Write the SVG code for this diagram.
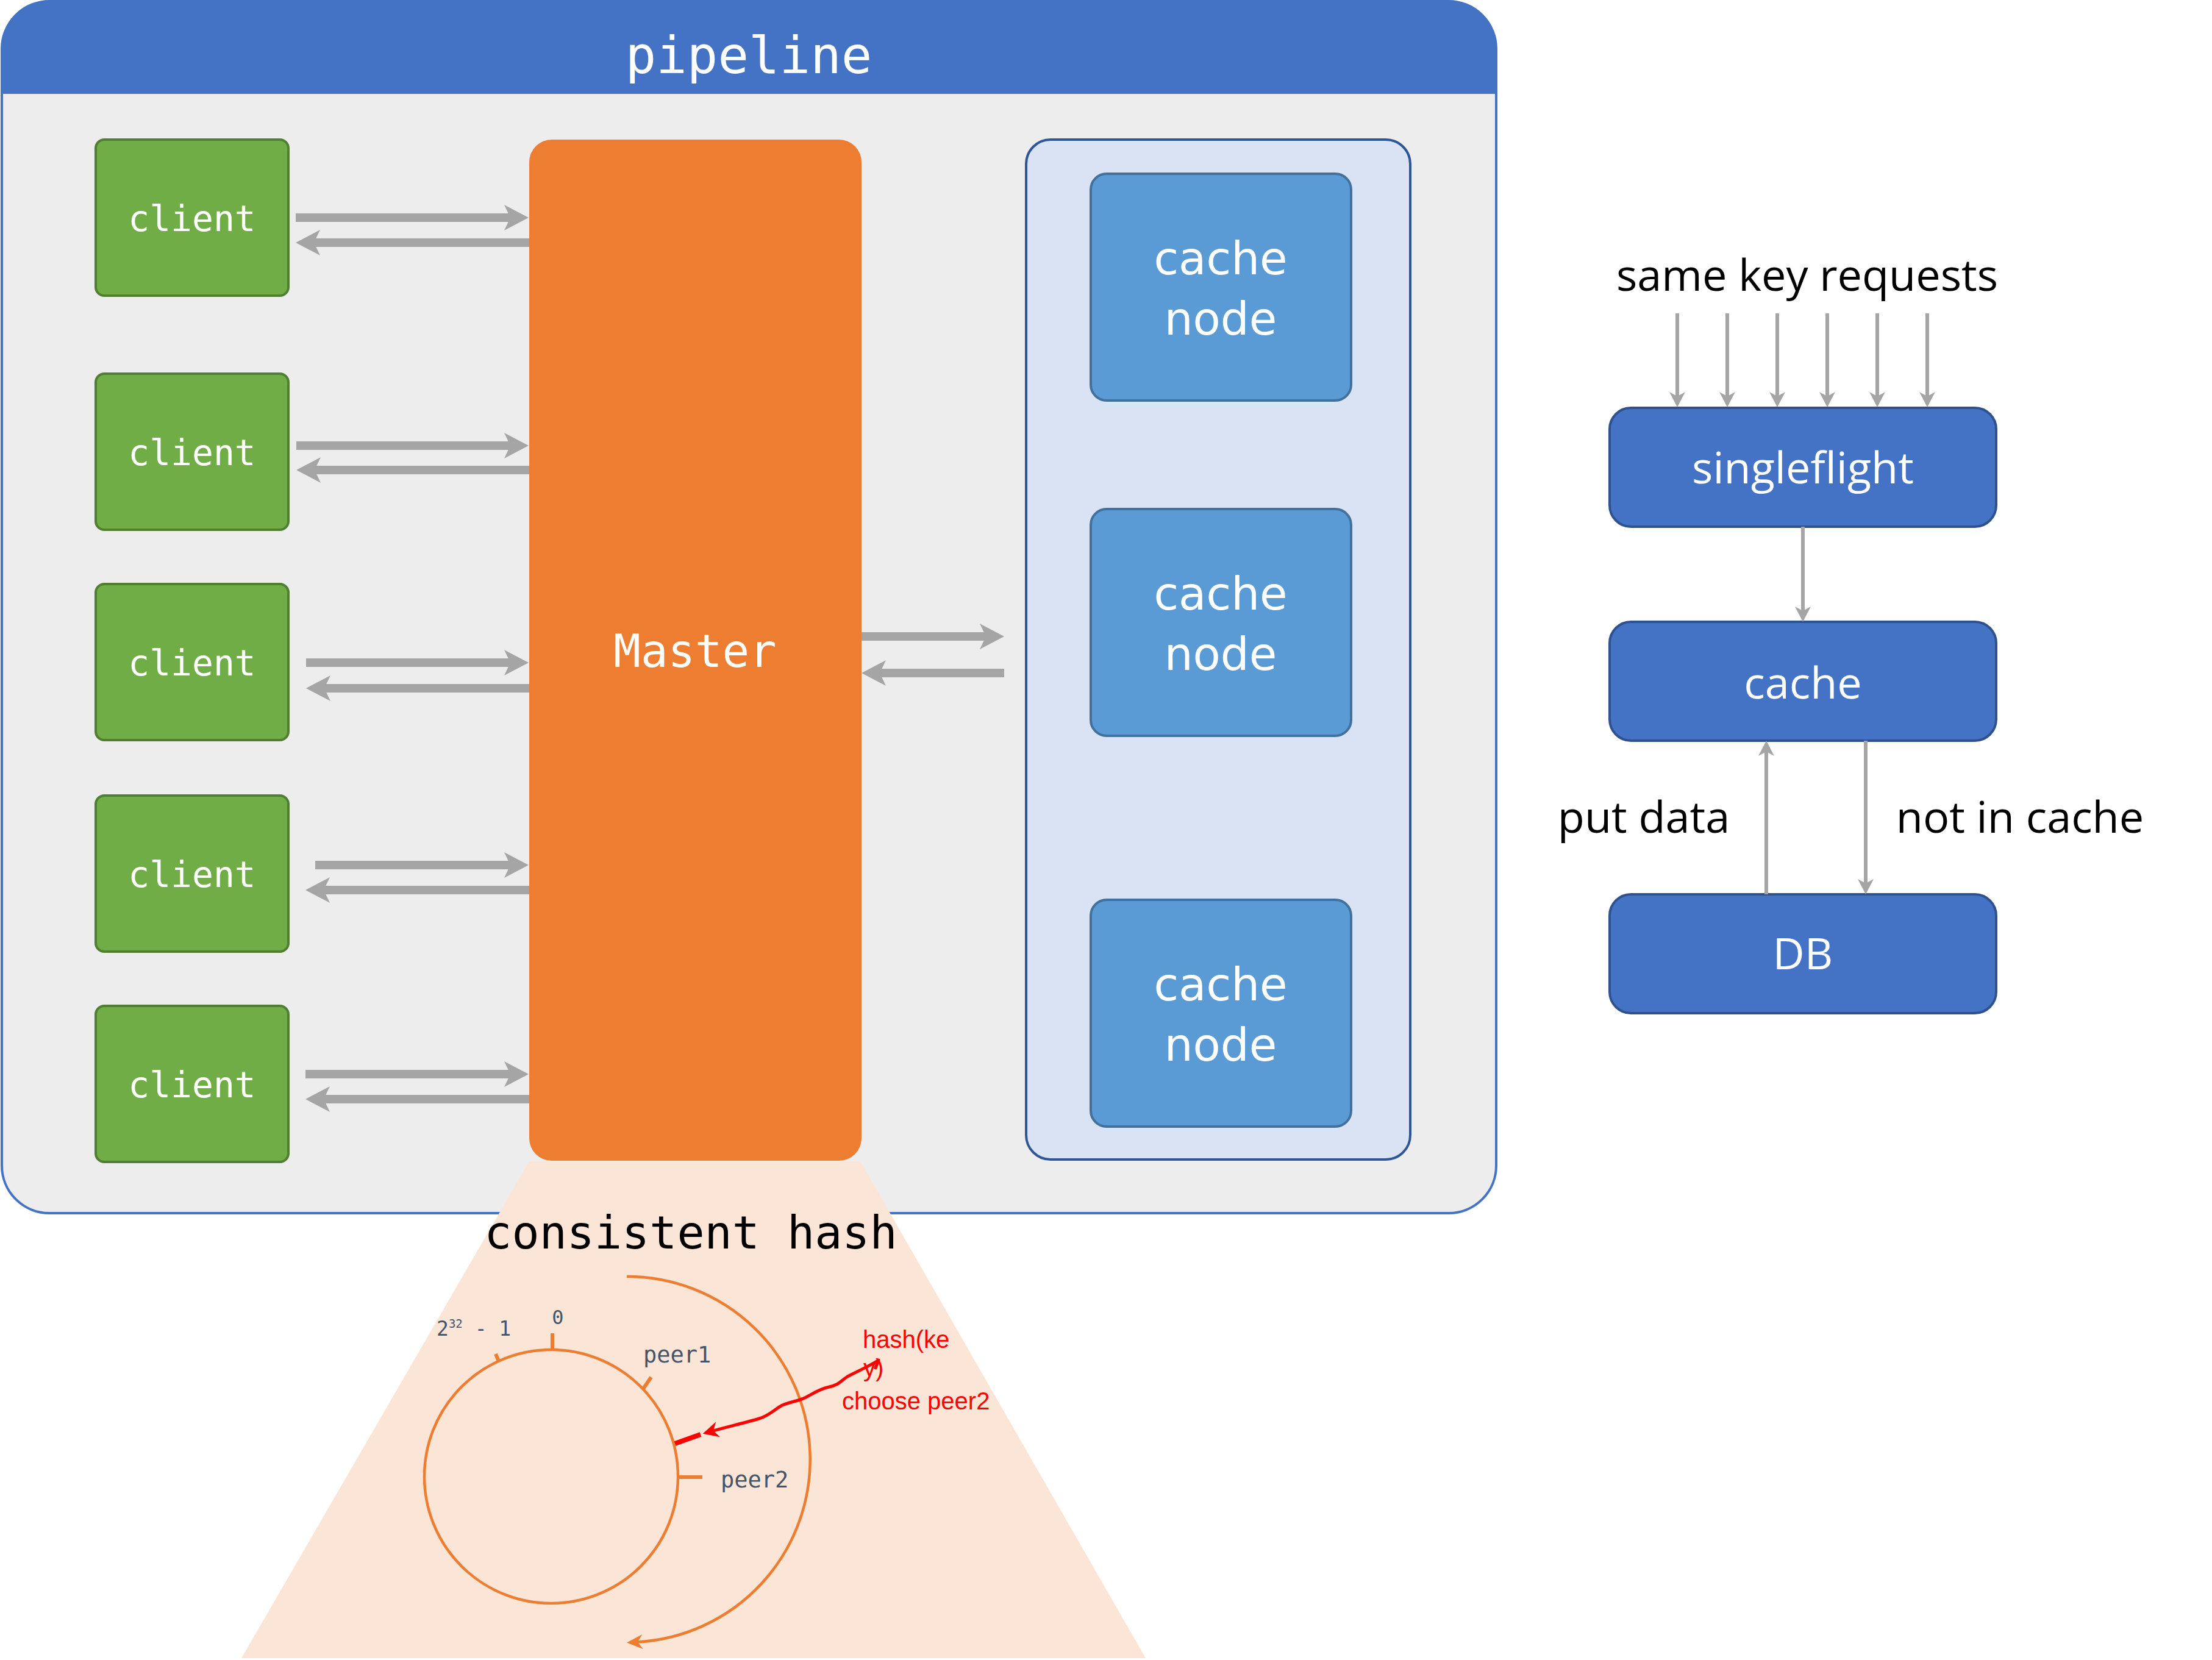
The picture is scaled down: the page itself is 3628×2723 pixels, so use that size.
<svg xmlns="http://www.w3.org/2000/svg" width="3628" height="2723" viewBox="0 0 3628 2723">
<defs>
<style>
.mono{font-family:"DejaVu Sans Mono","Liberation Mono",monospace}
.sans{font-family:"DejaVu Sans","Noto Sans",sans-serif}
.os{font-family:"Open Sans","Noto Sans",sans-serif}
.client rect{fill:#70AD47;stroke:#507E32;stroke-width:4}
.ctext{font-size:58px;fill:#FFFFFF;text-anchor:middle}
.cnode rect{fill:#5B9BD5;stroke:#41719C;stroke-width:4}
.ntext{font-size:74px;fill:#FFFFFF;text-anchor:middle}
.bbox rect{fill:#4472C4;stroke:#2F528F;stroke-width:4}
.btext{font-size:72px;fill:#FFFFFF;text-anchor:middle}
.dtext{font-size:72px;fill:#000000;text-anchor:middle}
.thick{stroke:#A5A5A5;stroke-width:14;fill:none;marker-end:url(#bigArrow)}
.thin{stroke:#A5A5A5;stroke-width:6;fill:none;marker-end:url(#grayArrow)}
.lbl{fill:#44546A}
.ring{fill:none;stroke:#ED7D31;stroke-width:4.5}
.tick{stroke:#ED7D31;stroke-width:6;fill:none}
.red{font-family:"Liberation Sans",Arial,sans-serif;font-size:40px;fill:#FF0000}
</style>
<marker id="bigArrow" markerUnits="userSpaceOnUse" viewBox="0 -22 42 44" markerWidth="42" markerHeight="44" refX="10" refY="0" orient="auto">
<path d="M0,-21 L40,0 L0,21 L10,0 Z" fill="#A5A5A5"/>
</marker>
<marker id="grayArrow" markerUnits="userSpaceOnUse" viewBox="0 -14 27 28" markerWidth="27" markerHeight="28" refX="7" refY="0" orient="auto">
<path d="M0,-13 L25,0 L0,13 L7,0 Z" fill="#A5A5A5"/>
</marker>
<marker id="orangeArrow" markerUnits="userSpaceOnUse" viewBox="0 -14 27 28" markerWidth="27" markerHeight="28" refX="8" refY="0" orient="auto">
<path d="M0,-12 L26,0 L0,12 L8,0 Z" fill="#ED7D31"/>
</marker>
<marker id="redArrow" markerUnits="userSpaceOnUse" viewBox="0 -14 27 28" markerWidth="27" markerHeight="28" refX="8" refY="0" orient="auto">
<path d="M0,-13 L26,0 L0,13 L8,0 Z" fill="#FF0000"/>
</marker>
</defs>

<g id="pipeline">
<rect x="3" y="2" width="2451" height="1988" rx="78" ry="78" fill="#EDEDED" stroke="#4472C4" stroke-width="4"/>
<path d="M3,154 L3,80 A78,78 0 0 1 81,2 L2376,2 A78,78 0 0 1 2454,80 L2454,154 Z" fill="#4472C4"/>
<text class="mono" x="1228" y="120" font-size="84" fill="#FFFFFF" text-anchor="middle">pipeline</text>
</g>

<g id="consistent-hash-area">
<polygon points="868,1905 1411,1905 1879,2720 396,2720" fill="#FBE5D6"/>
<text class="mono" x="1133" y="2048" font-size="75" fill="#000000" text-anchor="middle">consistent hash</text>
</g>

<g id="client1" class="client"><rect x="157" y="229" width="316" height="256" rx="14"/><text class="mono ctext" x="315" y="379">client</text></g>
<g id="client2" class="client"><rect x="157" y="613" width="316" height="256" rx="14"/><text class="mono ctext" x="315" y="763">client</text></g>
<g id="client3" class="client"><rect x="157" y="958" width="316" height="256" rx="14"/><text class="mono ctext" x="315" y="1108">client</text></g>
<g id="client4" class="client"><rect x="157" y="1305" width="316" height="256" rx="14"/><text class="mono ctext" x="315" y="1455">client</text></g>
<g id="client5" class="client"><rect x="157" y="1650" width="316" height="256" rx="14"/><text class="mono ctext" x="315" y="1800">client</text></g>

<g id="master">
<rect x="868" y="229" width="545" height="1675" rx="37" fill="#ED7D31"/>
<text class="mono" x="1140" y="1094" font-size="74" fill="#FFFFFF" text-anchor="middle">Master</text>
</g>

<g id="cache-group">
<rect x="1683" y="229" width="630" height="1673" rx="40" fill="#DAE3F3" stroke="#2F5597" stroke-width="4"/>
</g>
<g id="cache-node1" class="cnode"><rect x="1789" y="285" width="427" height="372" rx="26"/><text class="sans ntext" x="2002" y="450">cache</text><text class="sans ntext" x="2002" y="549">node</text></g>
<g id="cache-node2" class="cnode"><rect x="1789" y="835" width="427" height="372" rx="26"/><text class="sans ntext" x="2002" y="1000">cache</text><text class="sans ntext" x="2002" y="1099">node</text></g>
<g id="cache-node3" class="cnode"><rect x="1789" y="1476" width="427" height="372" rx="26"/><text class="sans ntext" x="2002" y="1641">cache</text><text class="sans ntext" x="2002" y="1740">node</text></g>

<g id="singleflight" class="bbox"><rect x="2640" y="669" width="634" height="195" rx="35"/><text class="os btext" x="2957" y="793">singleflight</text></g>
<g id="cache" class="bbox"><rect x="2640" y="1020" width="634" height="195" rx="35"/><text class="os btext" x="2957" y="1146">cache</text></g>
<g id="db" class="bbox"><rect x="2640" y="1467" width="634" height="195" rx="35"/><text class="os btext" x="2957" y="1590">DB</text></g>

<g id="right-labels">
<text class="os dtext" x="2964" y="477">same key requests</text>
<text class="os dtext" x="2696" y="1366">put data</text>
<text class="os dtext" x="3313" y="1366">not in cache</text>
</g>

<g id="ring">
<circle class="ring" cx="904" cy="2422" r="208"/>
<path class="ring" d="M1028,2094 A300,300 0 0 1 1046,2693.5" marker-end="url(#orangeArrow)"/>
<line class="tick" x1="906" y1="2187" x2="906" y2="2214"/>
<line class="tick" x1="813" y1="2221" x2="818" y2="2233"/>
<line class="tick" x1="1055" y1="2278" x2="1068" y2="2259"/>
<line class="tick" x1="1111" y1="2423" x2="1152" y2="2423" stroke-width="7"/>
<line x1="1107" y1="2368" x2="1149" y2="2353" stroke="#FF0000" stroke-width="8"/>
<text class="mono lbl" x="915" y="2172" font-size="32" text-anchor="middle">0</text>
<text class="mono lbl" x="716" y="2191" font-size="33">2<tspan font-size="19" dy="-13">32</tspan><tspan dy="13"> - 1</tspan></text>
<text class="mono lbl" x="1055" y="2235" font-size="37">peer1</text>
<text class="mono lbl" x="1182" y="2440" font-size="37">peer2</text>
<text class="red" x="1415" y="2211">hash(ke</text>
<text class="red" x="1416" y="2258">y)</text>
<text class="red" x="1381" y="2312">choose peer2</text>
</g>

<g id="connectors">
<path class="thick" d="M485,357 H837"/>
<path class="thick" d="M868,398 H515"/>
<path class="thick" d="M486,731 H837"/>
<path class="thick" d="M868,771 H516"/>
<path class="thick" d="M502,1087 H837"/>
<path class="thick" d="M868,1129 H532"/>
<path class="thick" d="M517,1419 H837"/>
<path class="thick" d="M868,1460 H531"/>
<path class="thick" d="M501,1762 H837"/>
<path class="thick" d="M868,1803 H531"/>
<path class="thick" d="M1413,1044 H1617"/>
<path class="thick" d="M1647,1104 H1443"/>
<path class="thin" d="M2751,514 V650"/>
<path class="thin" d="M2833,514 V650"/>
<path class="thin" d="M2915,514 V650"/>
<path class="thin" d="M2997,514 V650"/>
<path class="thin" d="M3079,514 V650"/>
<path class="thin" d="M3161,514 V650"/>
<path class="thin" d="M2957,864 V1002"/>
<path class="thin" d="M3060,1215 V1449"/>
<path class="thin" d="M2897,1467 V1233"/>
<path d="M1436,2244 L1441,2231 C1426,2241 1405,2250 1390,2258 C1378,2266 1375,2272 1360,2275 C1345,2278 1335,2285 1322,2292 C1310,2298 1295,2300 1283,2305 C1270,2312 1262,2322 1245,2327 C1225,2333 1195,2340 1170,2347" fill="none" stroke="#FF0000" stroke-width="5" stroke-linejoin="round" stroke-linecap="round" marker-end="url(#redArrow)"/>
</g>
</svg>
